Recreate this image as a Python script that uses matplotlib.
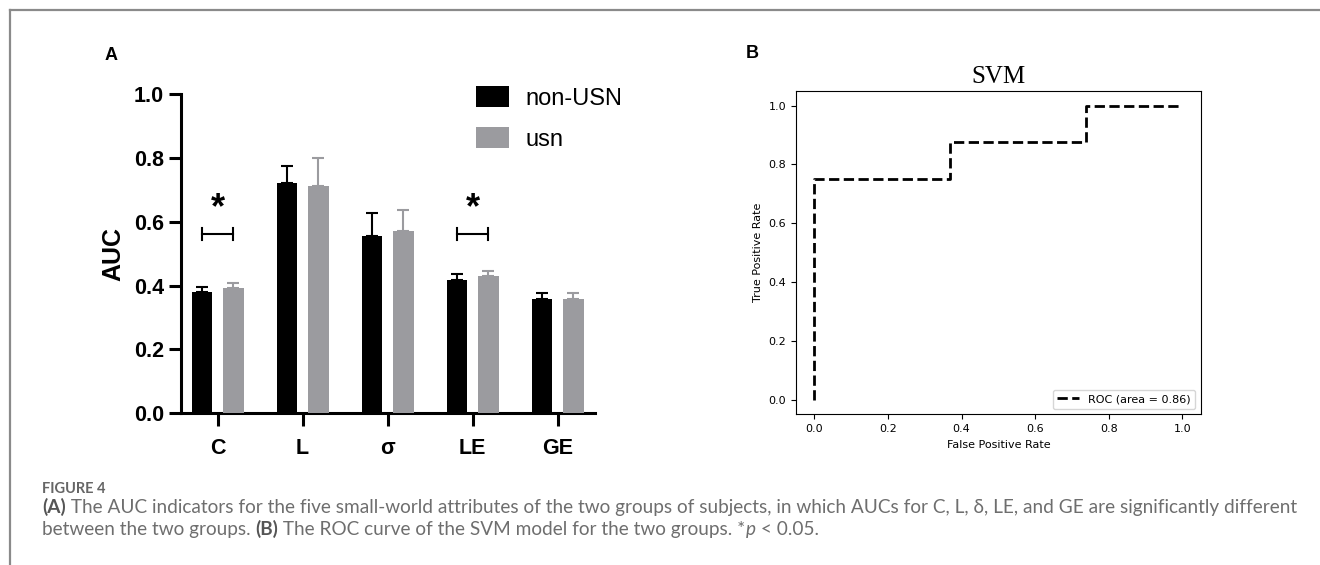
import matplotlib
matplotlib.use("Agg")
import matplotlib.pyplot as plt
from matplotlib.patches import Patch
from matplotlib.lines import Line2D
import numpy as np

# ---------------- data ----------------
categories = ["C", "L", "σ", "LE", "GE"]
non_usn_auc = [0.379, 0.7225, 0.555, 0.418, 0.358]
non_usn_err = [0.017, 0.053, 0.071, 0.019, 0.020]
usn_auc = [0.3915, 0.712, 0.572, 0.429, 0.357]
usn_err = [0.0155, 0.088, 0.065, 0.018, 0.021]
sig_groups = [0, 3]          # C and LE marked with *
sig_line_y = [0.5615, 0.5615]
yticks_a = [0.0, 0.2, 0.4, 0.6, 0.8, 1.0]

roc_fpr = [0.0, 0.0, 0.368, 0.368, 0.737, 0.737, 1.0]
roc_tpr = [0.0, 0.75, 0.75, 0.875, 0.875, 1.0, 1.0]
roc_auc = 0.86

W, H = 1320, 565
fig = plt.figure(figsize=(W / 100, H / 100), dpi=100)

def fx(px):
    return px / W

def fy(py):
    return 1 - py / H

BLACK = "#000000"
GRAY = "#9b9b9f"
bold_font = "Liberation Sans"

# ---------------- Panel A ----------------
axA = fig.add_axes([fx(180.7), fy(413.3), fx(595 - 180.7), (413.3 - 94) / H])
x = np.arange(len(categories))
bw = 0.241
off = 0.186
axA.bar(x - off, non_usn_auc, bw, color=BLACK,
        yerr=[np.zeros(len(x)), non_usn_err], capsize=4.3,
        error_kw=dict(ecolor=BLACK, elinewidth=1.5, capthick=1.5), zorder=3)
axA.bar(x + off, usn_auc, bw, color=GRAY,
        yerr=[np.zeros(len(x)), usn_err], capsize=4.3,
        error_kw=dict(ecolor=GRAY, elinewidth=1.5, capthick=1.5), zorder=3)

axA.set_xlim(-0.435, 4.439)
axA.set_ylim(0, 1.0)
axA.set_yticks(yticks_a)
axA.set_yticklabels([f"{v:.1f}" for v in yticks_a])
axA.set_xticks(x)
axA.set_xticklabels(categories)
for s in ["top", "right"]:
    axA.spines[s].set_visible(False)
for s in ["left", "bottom"]:
    axA.spines[s].set_linewidth(2.2)
axA.tick_params(axis="both", which="major", length=9, width=2.2, direction="out")
axA.tick_params(axis="y", labelsize=15.5, pad=3)
axA.tick_params(axis="x", labelsize=15.5, pad=9)
for lab in axA.get_yticklabels() + axA.get_xticklabels():
    lab.set_fontfamily(bold_font)
    lab.set_fontweight("bold")
axA.set_ylabel("AUC", fontsize=18, fontweight="bold", fontfamily=bold_font, labelpad=6)

# significance brackets
for g, yv in zip(sig_groups, sig_line_y):
    x0, x1 = g - off, g + off
    axA.plot([x0, x1], [yv, yv], color=BLACK, lw=1.5, zorder=4)
    axA.plot([x0, x0], [yv - 0.02, yv + 0.02], color=BLACK, lw=1.5, zorder=4)
    axA.plot([x1, x1], [yv - 0.02, yv + 0.02], color=BLACK, lw=1.5, zorder=4)
    axA.text(g, yv + 0.025, "*", ha="center", va="bottom", fontsize=26,
             fontweight="bold", fontfamily=bold_font)

handles = [Patch(facecolor=BLACK, edgecolor="none", label="non-USN"),
           Patch(facecolor=GRAY, edgecolor="none", label="usn")]
axA.legend(handles=handles, loc="upper left",
           bbox_to_anchor=(fx(476), fy(86.5)), bbox_transform=fig.transFigure,
           frameon=False, handlelength=1.4, handleheight=0.97,
           handletextpad=0.68, labelspacing=0.74, borderpad=0, borderaxespad=0,
           prop={"family": "Liberation Sans", "size": 17})

fig.text(fx(110.7), fy(55.7), "A", fontsize=13, fontweight="bold",
         fontfamily=bold_font, ha="center", va="center")

# ---------------- Panel B ----------------
axB = fig.add_axes([fx(796), fy(414.3), fx(1200.7 - 796), (414.3 - 91) / H])
axB.plot(roc_fpr, roc_tpr, color="black", lw=2, linestyle="--",
         label=f"ROC (area = {roc_auc:.2f})")
axB.set_xticks([0, 0.2, 0.4, 0.6, 0.8, 1.0])
axB.set_yticks([0, 0.2, 0.4, 0.6, 0.8, 1.0])
axB.tick_params(labelsize=8)
axB.set_xlabel("False Positive Rate", fontsize=8)
axB.set_ylabel("True Positive Rate", fontsize=8)
axB.set_title("SVM", fontsize=18, fontfamily="Liberation Serif", pad=6)
axB.legend(loc="lower right", fontsize=8)

fig.text(fx(752.7), fy(54), "B", fontsize=13, fontweight="bold",
         fontfamily=bold_font, ha="center", va="center")

# ---------------- frame ----------------
fig.add_artist(Line2D([fx(10), fx(10)], [fy(10), 0], color="#8a8a8a", lw=1.6,
                      transform=fig.transFigure))
fig.add_artist(Line2D([fx(10), 1], [fy(10), fy(10)], color="#8a8a8a", lw=1.6,
                      transform=fig.transFigure))

# ---------------- caption ----------------
cap_font = "Lato"
CAP_GRAY = "#6e6e6e"
CAP_DARK = "#555555"
fig.text(fx(42), fy(493), "FIGURE 4", fontsize=10.5, fontfamily=cap_font,
         fontweight="bold", color="#666666", va="baseline", ha="left")

renderer = fig.canvas.get_renderer()

line1 = [("(A)", "bold", "normal", CAP_DARK),
         (" The AUC indicators for the five small-world attributes of the two groups of subjects, "
          "in which AUCs for C, L, δ, LE, and GE are significantly different", "normal", "normal", CAP_GRAY)]
line2 = [("between the two groups. ", "normal", "normal", CAP_GRAY),
         ("(B)", "bold", "normal", CAP_DARK),
         (" The ROC curve of the SVM model for the two groups. *", "normal", "normal", CAP_GRAY),
         ("p", "normal", "italic", CAP_GRAY),
         (" < 0.05.", "normal", "normal", CAP_GRAY)]

def draw_line(pieces, y_base, size, draw=True):
    xpos = 42
    arts = []
    for txt, wt, st, col in pieces:
        t = fig.text(fx(xpos), fy(y_base), txt, fontsize=size, fontfamily=[cap_font, "DejaVu Sans"],
                     fontweight=wt, fontstyle=st, color=col, va="baseline", ha="left")
        bb = t.get_window_extent(renderer)
        xpos += bb.width
        arts.append(t)
    if not draw:
        for a in arts:
            a.remove()
    return xpos - 42

w = draw_line(line1, 512, 10, draw=False)
size = 10 * 1256 / w
draw_line(line1, 513, size)
draw_line(line2, 535, size)

fig.savefig("out.png", dpi=100)
